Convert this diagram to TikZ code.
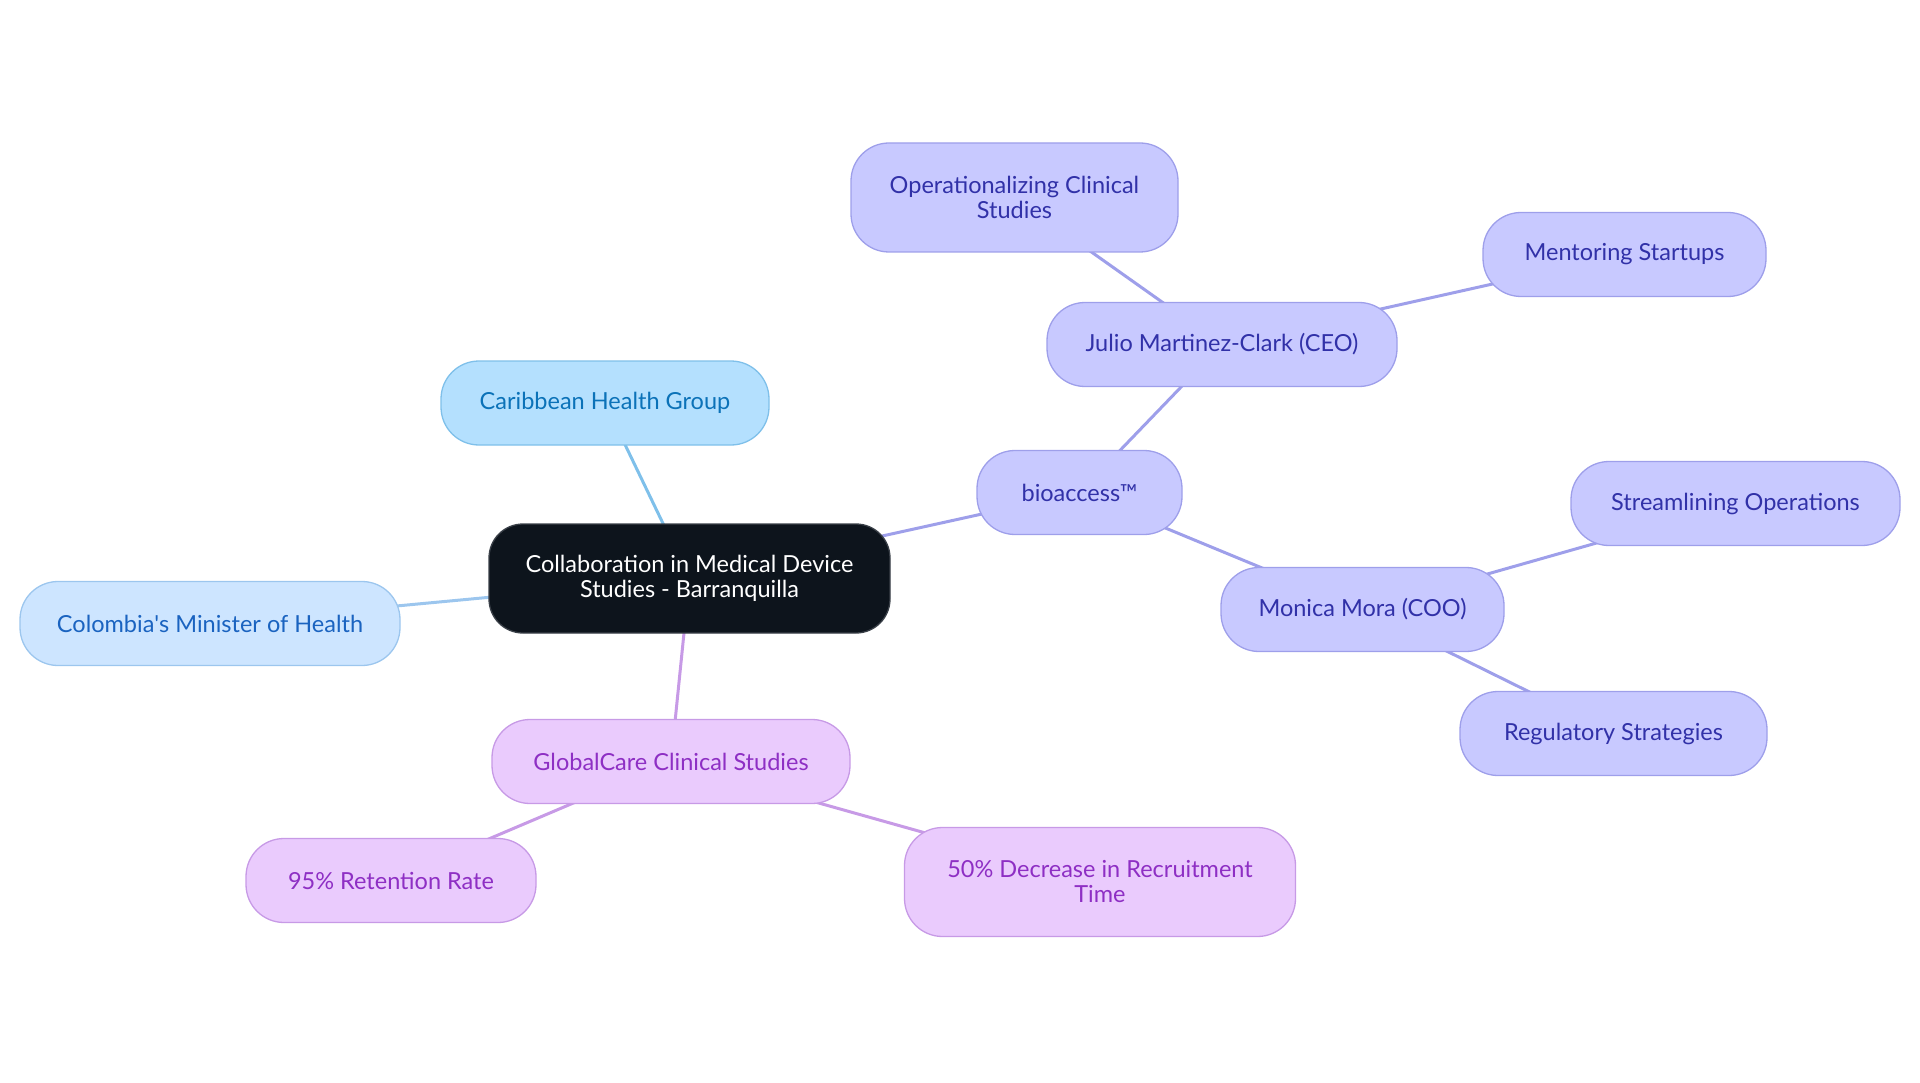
\documentclass[tikz,border=0pt]{standalone}
\usepackage{fontspec}
\setmainfont{Lato}
\usetikzlibrary{positioning,backgrounds}

\definecolor{rootfill}{HTML}{0D141C}
\definecolor{rootline}{HTML}{3A4048}
\definecolor{skyfill}{HTML}{B4E0FE}
\definecolor{skyline}{HTML}{7FC0EA}
\definecolor{skytext}{HTML}{0B72B8}
\definecolor{palefill}{HTML}{CDE5FF}
\definecolor{paleline}{HTML}{9CC6EE}
\definecolor{paletext}{HTML}{1A63C0}
\definecolor{lilacfill}{HTML}{EACBFD}
\definecolor{lilacline}{HTML}{C79AE6}
\definecolor{lilactext}{HTML}{8E2FC4}
\definecolor{violetfill}{HTML}{C8C9FF}
\definecolor{violetline}{HTML}{9E9FEA}
\definecolor{violettext}{HTML}{3131A8}

\begin{document}
\begin{tikzpicture}[x=1pt, y=-1pt,
    mmnode/.style={rectangle, rounded corners=38pt, line width=1.3pt, align=center,
        font=\fontsize{23.5}{25}\selectfont, minimum height=84pt, inner sep=0pt},
    rootnode/.style={mmnode, fill=rootfill, draw=rootline, text=white, rounded corners=34pt},
    skynode/.style={mmnode, fill=skyfill, draw=skyline, text=skytext},
    palenode/.style={mmnode, fill=palefill, draw=paleline, text=paletext},
    lilacnode/.style={mmnode, fill=lilacfill, draw=lilacline, text=lilactext},
    violetnode/.style={mmnode, fill=violetfill, draw=violetline, text=violettext},
    link/.style={line width=3pt}]
    \useasboundingbox (0,0) rectangle (1920,1083);

    % Root
    \node[rootnode, minimum width=401pt, minimum height=109pt] (root) at (689.5,578.5)
        {Collaboration in Medical Device\\Studies - Barranquilla};

    % Left branches
    \node[skynode, minimum width=328pt] (caribbean) at (605,403) {Caribbean Health Group};
    \node[palenode, minimum width=380pt] (minister) at (210,623.5) {Colombia\textquotesingle s Minister of Health};

    % GlobalCare branch
    \node[lilacnode, minimum width=358pt] (globalcare) at (671,761.5) {GlobalCare Clinical Studies};
    \node[lilacnode, minimum width=290pt] (retention) at (391,880.5) {95\% Retention Rate};
    \node[lilacnode, minimum width=391pt, minimum height=109pt] (recruit) at (1100,882)
        {50\% Decrease in Recruitment\\Time};

    % bioaccess branch
    \node[violetnode, minimum width=205pt] (bioaccess) at (1079.5,492.5) {bioaccess™};
    \node[violetnode, minimum width=350pt] (ceo) at (1222,344.5) {Julio Martinez-Clark (CEO)};
    \node[violetnode, minimum width=327pt, minimum height=109pt] (operational) at (1014.5,197.5)
        {Operationalizing Clinical\\Studies};
    \node[violetnode, minimum width=283pt] (mentoring) at (1624.5,254.5) {Mentoring Startups};
    \node[violetnode, minimum width=283pt] (coo) at (1362.5,609.5) {Monica Mora (COO)};
    \node[violetnode, minimum width=329pt] (streamline) at (1735.5,503.5) {Streamlining Operations};
    \node[violetnode, minimum width=307pt] (regulatory) at (1613.5,733.5) {Regulatory Strategies};

    % Links behind the nodes
    \begin{scope}[on background layer]
        \draw[link, skyline] (root.center) -- (caribbean.center);
        \draw[link, paleline] (root.center) -- (minister.center);
        \draw[link, lilacline] (root.center) -- (globalcare.center);
        \draw[link, lilacline] (globalcare.center) -- (retention.center);
        \draw[link, lilacline] (globalcare.center) -- (recruit.center);
        \draw[link, violetline] (root.center) -- (bioaccess.center);
        \draw[link, violetline] (bioaccess.center) -- (ceo.center);
        \draw[link, violetline] (ceo.center) -- (operational.center);
        \draw[link, violetline] (ceo.center) -- (mentoring.center);
        \draw[link, violetline] (bioaccess.center) -- (coo.center);
        \draw[link, violetline] (coo.center) -- (streamline.center);
        \draw[link, violetline] (coo.center) -- (regulatory.center);
    \end{scope}
\end{tikzpicture}
\end{document}
